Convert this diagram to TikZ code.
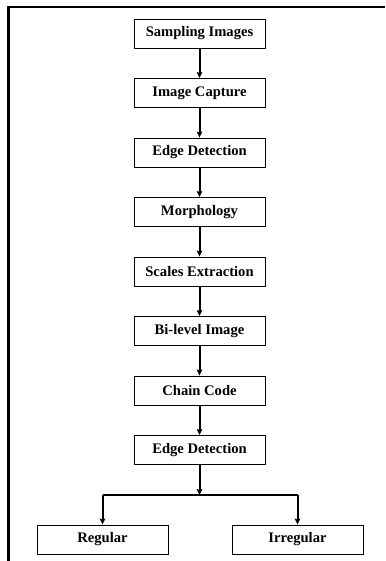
\documentclass[tikz,border=0pt]{standalone}
\usepackage{fontspec}
\setmainfont{Liberation Serif}
\usetikzlibrary{arrows.meta}
\begin{document}
\begin{tikzpicture}[x=1pt,y=-1pt,
  stepbox/.style={draw=black,line width=0.9pt,minimum width=131pt,minimum height=29pt,inner sep=0pt,font=\fontsize{14.6}{16}\selectfont\bfseries},
  flow/.style={line width=2pt,-{Stealth[length=6pt,width=5.5pt,inset=1pt]}},
  plain/.style={line width=2pt}]
\useasboundingbox (0,0) rectangle (385,561);
\draw[line width=2.8pt] (8.5,561) -- (8.5,7) -- (385,7);
\node[stepbox] (s1) at (199.5,33.5) {Sampling Images};
\node[stepbox] (s2) at (199.5,93) {Image Capture};
\node[stepbox] (s3) at (199.5,152.5) {Edge Detection};
\node[stepbox] (s4) at (199.5,212) {Morphology};
\node[stepbox] (s5) at (199.5,271.5) {Scales Extraction};
\node[stepbox] (s6) at (199.5,331) {Bi-level Image};
\node[stepbox] (s7) at (199.5,390.5) {Chain Code};
\node[stepbox] (s8) at (199.5,450) {Edge Detection};
\node[stepbox] (r) at (102.5,539.5) {Regular};
\node[stepbox] (ir) at (297.5,539.5) {Irregular};
\coordinate (j) at (199.5,495);
\coordinate (jl) at (102.5,495);
\coordinate (jr) at (297.5,495);
\draw[flow] (s1) -- (s2);
\draw[flow] (s2) -- (s3);
\draw[flow] (s3) -- (s4);
\draw[flow] (s4) -- (s5);
\draw[flow] (s5) -- (s6);
\draw[flow] (s6) -- (s7);
\draw[flow] (s7) -- (s8);
\draw[flow] (s8) -- (j);
\draw[plain] (jl) -- (jr);
\draw[flow] (jl) -- (r);
\draw[flow] (jr) -- (ir);
\end{tikzpicture}
\end{document}
